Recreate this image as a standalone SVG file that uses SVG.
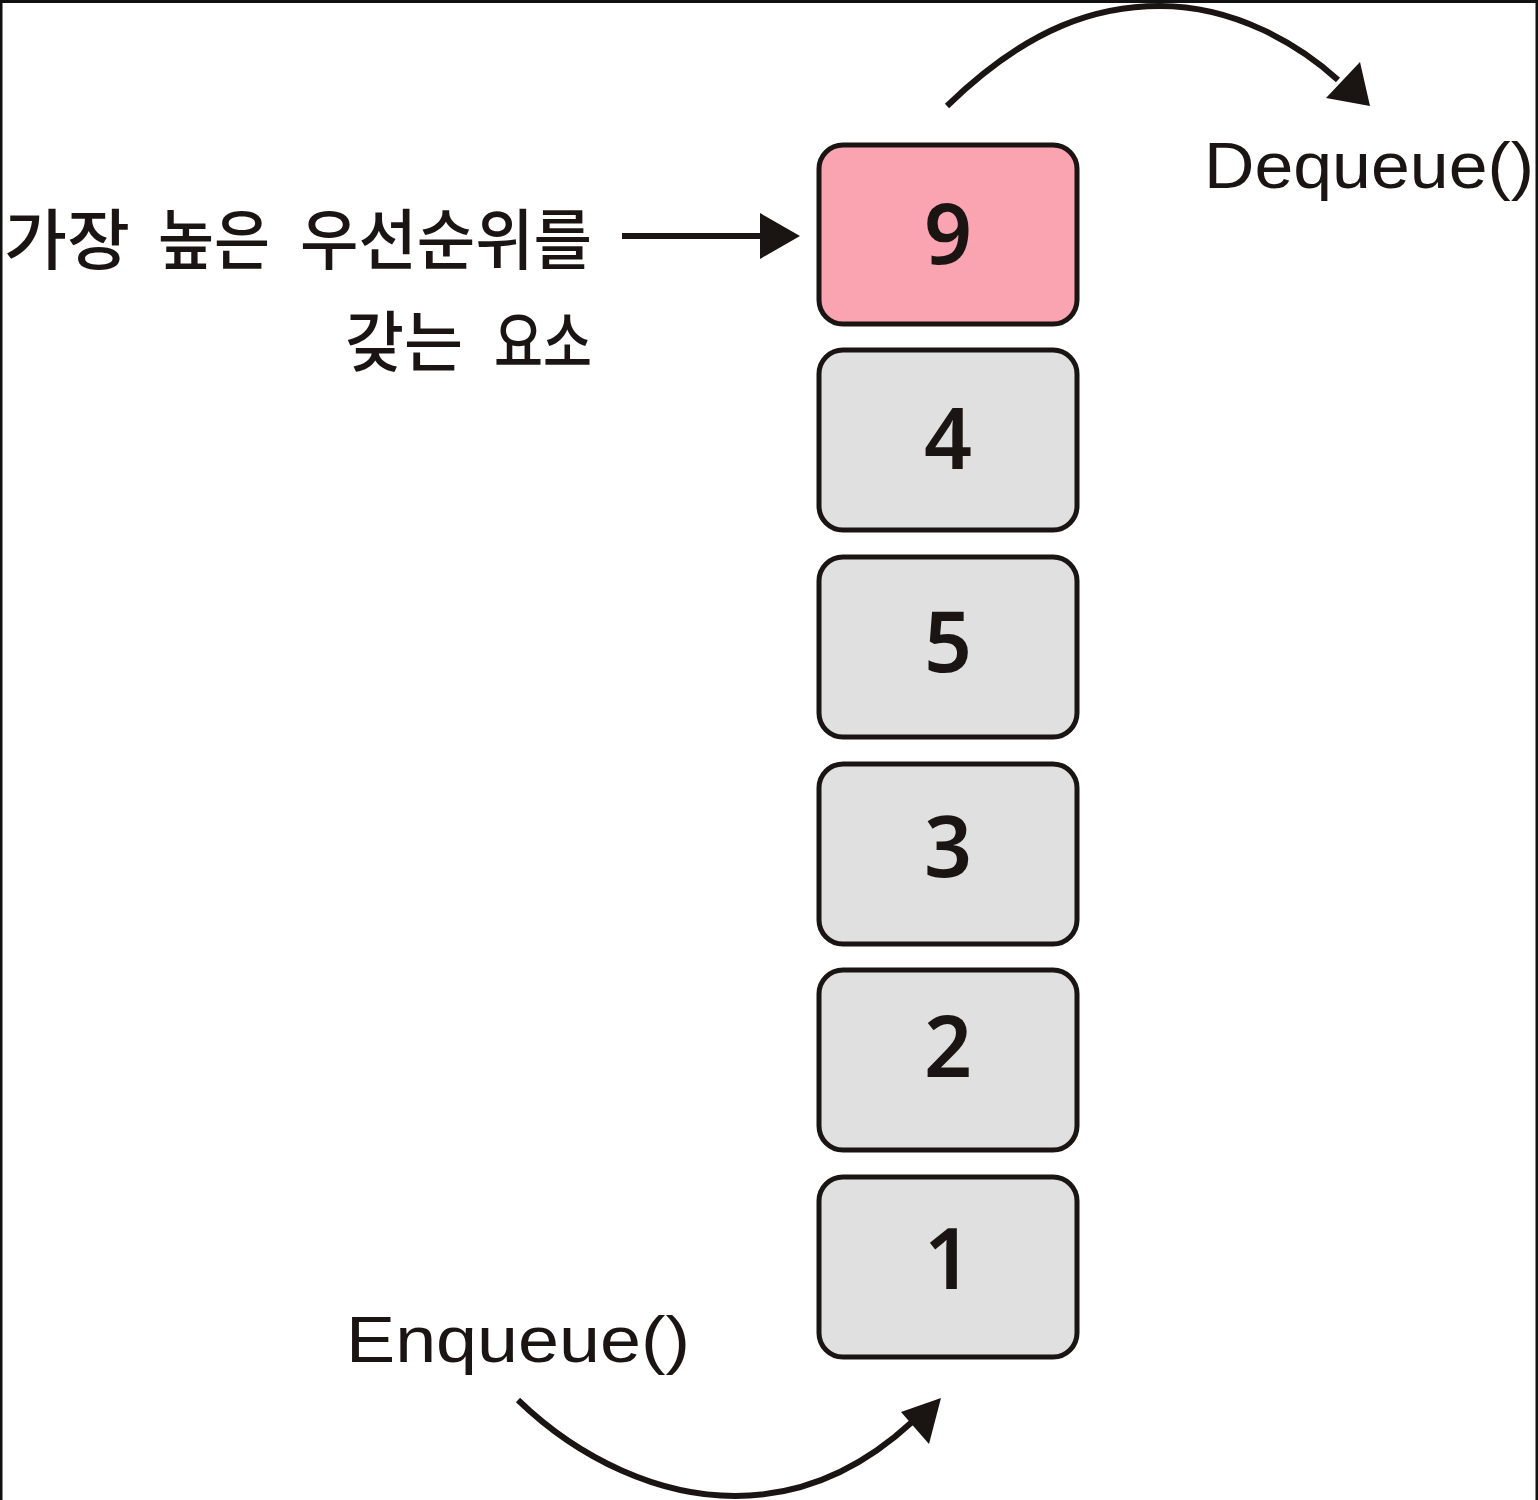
<svg xmlns="http://www.w3.org/2000/svg" width="1538" height="1500" viewBox="0 0 1538 1500">
<style>
.box{stroke:#1a1412;stroke-width:5}
.gray{fill:#e0e0e0}
.pink{fill:#f9a4b0}
.num{font-family:"Noto Sans","DejaVu Sans",sans-serif;font-size:84px;font-weight:600;fill:#1a1412;text-anchor:middle}
.lbl{font-family:"Liberation Sans",Arial,sans-serif;font-size:64px;fill:#1a1412}
.kr{font-family:"Noto Sans CJK KR",sans-serif;font-size:66px;font-weight:500;fill:#1a1412}
.conn{fill:none;stroke:#1a1412;stroke-width:6}
</style>
<defs>
<marker id="ah2" viewBox="0 0 10 10" refX="2" refY="5" markerWidth="40" markerHeight="46" orient="auto" markerUnits="userSpaceOnUse" preserveAspectRatio="none">
<path d="M0,0 L10,5 L0,10 Z" fill="#1a1412"/>
</marker>
</defs>
<rect x="0" y="0" width="1538" height="1500" fill="#ffffff"/>
<path d="M1,1500 V1.5 H1537 V1500" fill="none" stroke="#111" stroke-width="3"/>
<g id="node-9"><rect class="box pink" x="819" y="145" width="258" height="179" rx="24"/><text class="num" x="948" y="264">9</text></g>
<g id="node-4"><rect class="box gray" x="819" y="350" width="258" height="180" rx="24"/><text class="num" x="948" y="469">4</text></g>
<g id="node-5"><rect class="box gray" x="819" y="557" width="258" height="180" rx="24"/><text class="num" x="948" y="672">5</text></g>
<g id="node-3"><rect class="box gray" x="819" y="764" width="258" height="180" rx="24"/><text class="num" x="948" y="877">3</text></g>
<g id="node-2"><rect class="box gray" x="819" y="970" width="258" height="180" rx="24"/><text class="num" x="948" y="1077">2</text></g>
<g id="node-1"><rect class="box gray" x="819" y="1177" width="258" height="180" rx="24"/><text class="num" x="948" y="1289">1</text></g>
<g id="label-top">
<text class="kr" y="264"><tspan x="4" textLength="126" lengthAdjust="spacingAndGlyphs">가장</tspan> <tspan x="158" textLength="112" lengthAdjust="spacingAndGlyphs">높은</tspan> <tspan x="300" textLength="292" lengthAdjust="spacingAndGlyphs">우선순위를</tspan></text>
<text class="kr" y="366"><tspan x="345" textLength="118" lengthAdjust="spacingAndGlyphs">갖는</tspan> <tspan x="494" textLength="98" lengthAdjust="spacingAndGlyphs">요소</tspan></text>
</g>
<g id="label-dequeue"><text class="lbl" x="1204" y="188" textLength="330" lengthAdjust="spacingAndGlyphs">Dequeue()</text></g>
<g id="label-enqueue"><text class="lbl" x="346" y="1362" textLength="344" lengthAdjust="spacingAndGlyphs">Enqueue()</text></g>
<g id="connectors">
<path class="conn" d="M622,236 H768" marker-end="url(#ah2)"/>
<path class="conn" d="M947,106 C1030,25 1100,6 1160,6 C1235,6 1300,45 1338,80"/>
<path d="M1370,106 L1326,98 L1360,62 Z" fill="#1a1412"/>
<path class="conn" d="M518,1400 C580,1460 660,1496 735,1496 C800,1496 860,1470 912,1422"/>
<path d="M941,1398 L929,1444 L901,1412 Z" fill="#1a1412"/>
</g>
</svg>
